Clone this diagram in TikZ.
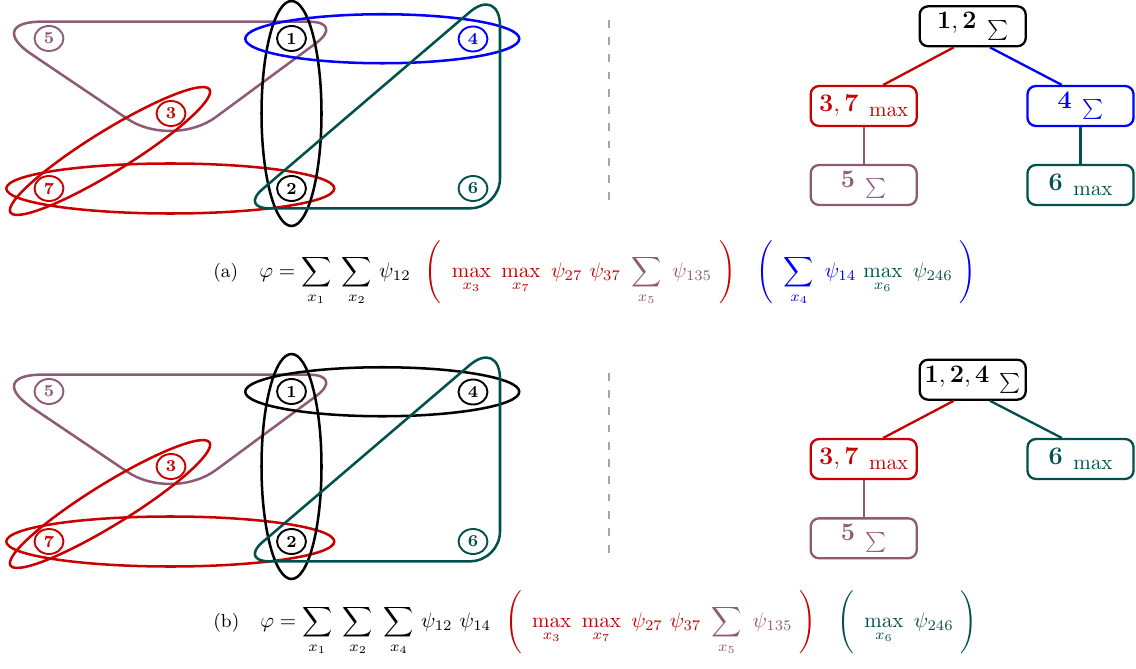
\documentclass[tikz,border=0pt]{standalone}
\usepackage{amsmath}
\usetikzlibrary{shapes.geometric,calc}

\definecolor{hred}{RGB}{200,0,0}
\definecolor{hblue}{RGB}{0,0,255}
\definecolor{hmauve}{RGB}{143,90,117}
\definecolor{hteal}{RGB}{0,80,76}

\newcommand{\tsum}{\raisebox{-3pt}{\scalebox{0.95}{\normalsize$\sum$}}}
\newcommand{\tmax}{\raisebox{-2.4pt}{\normalsize$\max$}}
\newcommand{\tlab}[2]{$\mathbf{#1}$\hspace{5pt}#2}

\tikzset{
	vtx/.style={ellipse,draw,line width=0.9pt,minimum width=13.8pt,minimum height=11.9pt,inner sep=0pt,font=\footnotesize\bfseries},
	hedge/.style={line width=1.2pt},
	tbox/.style={draw,rounded corners=4pt,line width=1.1pt,minimum width=50.5pt,minimum height=19pt,inner sep=1pt,font=\large},
	tlink/.style={line width=1.1pt},
	divider/.style={gray!70,line width=0.5pt,dash pattern=on 3.7pt off 4.5pt},
	formula/.style={anchor=base west,inner sep=0pt}
}

\begin{document}
\begin{tikzpicture}[x=0.476pt,y=-0.476pt]
	\useasboundingbox (0,0) rectangle (1136,669);
	% hypergraphs
	\foreach \p/\dy/\cf in {a/0/hblue, b/353/black}{
		\begin{scope}[shift={(0,\dy)}]
			\node[vtx,hmauve] (\p5) at (49,38.5) {5};
			\node[vtx] (\p1) at (291.5,38.5) {1};
			\node[vtx,\cf] (\p4) at (473,39) {4};
			\node[vtx,hred] (\p3) at (171,113.5) {3};
			\node[vtx,hred] (\p7) at (49,188.5) {7};
			\node[vtx] (\p2) at (291.5,188.5) {2};
			\node[vtx,hteal] (\p6) at (473,188.5) {6};
			\coordinate (\p37) at ($(\p3)!.5!(\p7)$);
			\draw[hedge,hmauve] (41.2,21.7) -- (309,21.7) .. controls (328.8,21.7) and (332,31.3) .. (316.1,43.1)
				-- (215.8,117.1) .. controls (191.9,134.8) and (152.2,135.6) .. (127.6,119)
				-- (31.3,54.1) .. controls (4.8,36.3) and (9.3,21.7) .. (41.2,21.7) -- cycle;
			\draw[hedge,hred,rotate around={31.7:(\p37)}] (\p37) ellipse (117 and 20.5);
			\draw[hedge,hred] ($(\p7)!.5!(\p2)$) ellipse (164 and 25);
			\draw[hedge] ($(\p1)!.5!(\p2)$) ellipse (30 and 112.5);
			\draw[hedge,\cf] ($(\p1)!.5!(\p4)$) ellipse (137 and 24.5);
			\draw[hedge,hteal] (269.2,208.3) -- (470,208.3) .. controls (486.5,208.3) and (500,194.8) .. (500,178.3)
				-- (500,26.2) .. controls (500,4.2) and (486.3,-2.1) .. (469.6,12.2)
				-- (262.2,189.4) .. controls (250.1,199.8) and (253.2,208.3) .. (269.2,208.3) -- cycle;
		\end{scope}
	}
	% dividers
	\coordinate (da1) at (609,20);
	\coordinate (da2) at (609,203);
	\coordinate (db1) at (609,373);
	\coordinate (db2) at (609,556);
	\draw[divider] (da1) -- (da2);
	\draw[divider] (db1) -- (db2);
	% tree (a)
	\node[tbox] (ta12) at (972.7,26.3) {\tlab{1,2}{\tsum}};
	\node[tbox,hred] (ta37) at (863.7,106) {\tlab{3,7}{\tmax}};
	\node[tbox,hblue] (ta4) at (1080.5,106) {\tlab{4}{\tsum}};
	\node[tbox,hmauve] (ta5) at (863.7,185) {\tlab{5}{\tsum}};
	\node[tbox,hteal] (ta6) at (1080.5,185) {\tlab{6}{\tmax}};
	\draw[tlink,hred] ($(ta12.south)+(-19,0)$) -- ($(ta37.north)+(19.6,0)$);
	\draw[tlink,hblue] ($(ta12.south)+(17.3,0)$) -- ($(ta4.north)+(-18.8,0)$);
	\draw[tlink,hmauve] (ta37) -- (ta5);
	\draw[tlink,hteal] (ta4) -- (ta6);
	% tree (b)
	\node[tbox] (tb124) at (972.7,379.7) {\tlab{1,2,4}{\tsum}};
	\node[tbox,hred] (tb37) at (863.7,459) {\tlab{3,7}{\tmax}};
	\node[tbox,hteal] (tb6) at (1080.5,459) {\tlab{6}{\tmax}};
	\node[tbox,hmauve] (tb5) at (863.7,538.3) {\tlab{5}{\tsum}};
	\draw[tlink,hred] ($(tb124.south)+(-19,0)$) -- ($(tb37.north)+(19.6,0)$);
	\draw[tlink,hteal] ($(tb124.south)+(17.3,0)$) -- ($(tb6.north)+(-18.8,0)$);
	\draw[tlink,hmauve] (tb37) -- (tb5);
	% formulas
	\node[formula] (fa) at (213,277) {{\small(a)}\quad$\displaystyle\varphi=\sum_{x_1}\ \sum_{x_2}\,\psi_{12}\ \ 
		\textcolor{hred}{\Bigg(\ \max_{x_3}\ \max_{x_7}\ \psi_{27}\ \psi_{37}}\ \,\textcolor{hmauve}{\sum_{x_5}\ \psi_{135}}\textcolor{hred}{\ \Bigg)}\quad
		\textcolor{hblue}{\Bigg(\ \sum_{x_4}\ \psi_{14}}\ \textcolor{hteal}{\max_{x_6}\ \psi_{246}}\textcolor{hblue}{\ \Bigg)}$};
	\node[formula] (fb) at (213,627) {{\small(b)}\quad$\displaystyle\varphi=\sum_{x_1}\ \sum_{x_2}\ \sum_{x_4}\,\psi_{12}\ \psi_{14}\ \ 
		\textcolor{hred}{\Bigg(\ \max_{x_3}\ \max_{x_7}\ \psi_{27}\ \psi_{37}}\ \,\textcolor{hmauve}{\sum_{x_5}\ \psi_{135}}\textcolor{hred}{\ \Bigg)}\quad
		\textcolor{hteal}{\Bigg(\ \max_{x_6}\ \psi_{246}\ \Bigg)}$};
\end{tikzpicture}
\end{document}
